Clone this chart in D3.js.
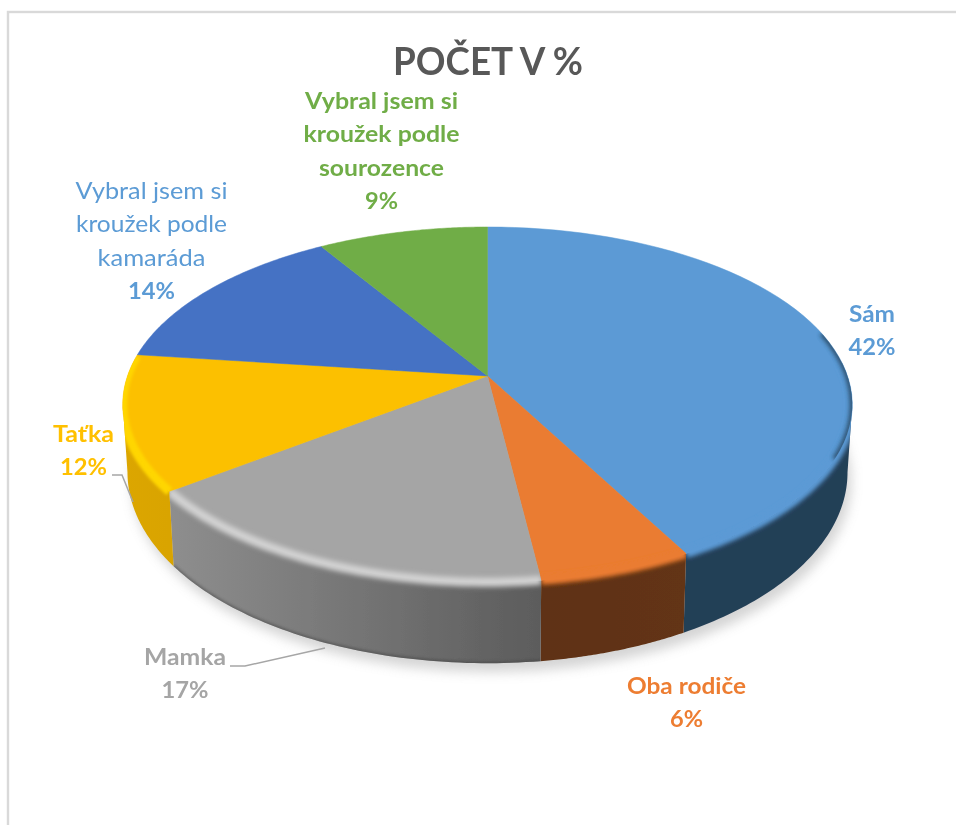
<!DOCTYPE html>
<html><head><meta charset="utf-8">
<script src="https://cdn.jsdelivr.net/npm/d3@7"></script>
<style>html,body{margin:0;padding:0;background:#fff;overflow:hidden}svg{display:block}text{font-family:Lato,"Open Sans",sans-serif}</style>
</head><body>
<svg id="c" width="956" height="825"></svg>
<script>
const categories = ["Sám","Oba rodiče","Mamka","Taťka","Vybral jsem si kroužek podle kamaráda","Vybral jsem si kroužek podle sourozence"];
const values = [42.15,5.85,16.7,12.3,14.2,8.8];
const valueLabels = ["42%","6%","17%","12%","14%","9%"];
const chartTitle = "POČET V %";

const faceColors = ["#5b9ad5","#ea7b30","#a5a5a5","#fcc000","#4472c4","#70ad47"];
const labelColors = ["#5b9bd5","#ed7d31","#a5a5a5","#ffc000","#5b9bd5","#70ad47"];
const wallStops = [["#243f57","#243f57"],["#5f3112","#633414"],["#8e8e8e","#5c5c5c"],["#dca600","#d9a400"],["#24396b","#24396b"],["#3f6128","#3f6128"]];
const bevel = [{c:"#5b9ad5",w:9,sd:2.2,ext:-14},{c:"#ea7b30",w:9,sd:2.2,ext:0},{c:"#d2d2d2",w:9,sd:2.6,ext:0},{c:"#ffd600",w:9,sd:1.8,ext:16}];

// label layout: wrapped lines, centre x, first baseline, width of each line, weight of the name
const labelLayout = [
 {lines:["Sám"],x:872,y:322,w:[46],weight:700},
 {lines:["Oba rodiče"],x:686.5,y:694,w:[119],weight:700},
 {lines:["Mamka"],x:185,y:665,w:[82],weight:700},
 {lines:["Taťka"],x:83.5,y:442,w:[61],weight:700},
 {lines:["Vybral jsem si","kroužek podle","kamaráda"],x:151.5,y:199,w:[152,151,108],weight:400},
 {lines:["Vybral jsem si","kroužek podle","sourozence"],x:381.5,y:109,w:[153,156,125],weight:700}
];
const valueWidths = [47,33,47,47,47,33];
const lineStep = 33.4;

const svg = d3.select("#c");
const cx=487.5, cy=376, R=360, A=173, k=0.161;

const pie = d3.pie().sort(null).startAngle(0).endAngle(2*Math.PI);
const arcs = pie(values);

const topP = (t,r=1) => { const u=Math.sin(t)*r, v=-Math.cos(t)*r, d=1-k*v;
  return [cx+R*u/d, cy+A*v/d]; };
const botP = t => { const p=topP(t), v=-Math.cos(t);
  return [cx+(p[0]-cx)*0.987, p[1]+65+16*v]; };
const line = d3.line();
const sample = (a,b,fn) => d3.range(0,61).map(i=>fn(a+(b-a)*i/60));
const visA = Math.acos(-k), visB = 2*Math.PI-visA;

const defs = svg.append("defs");
const blur = (id,sd)=>defs.append("filter").attr("id",id)
  .attr("filterUnits","userSpaceOnUse").attr("x",0).attr("y",0).attr("width",956).attr("height",825)
  .append("feGaussianBlur").attr("stdDeviation",sd);
blur("shadow",6); blur("soft",0.5); blur("edge",1.5); blur("rimDark",2.2);
bevel.forEach((b,i)=>blur("bv"+i,b.sd));

// frame
const root = svg.append("g").attr("filter","url(#soft)");
root.append("rect").attr("x",8).attr("y",12).attr("width",960).attr("height",830).attr("fill","#fff").attr("stroke","#d9d9d9").attr("stroke-width",2.4);

// drop shadow
const bottomRim = sample(0,2*Math.PI,botP).map(p=>[p[0]+4,p[1]+9]);
root.append("path").attr("d",line(bottomRim)+"Z").attr("fill","#9a9a9a").attr("opacity",0.42).attr("filter","url(#shadow)");

// walls
const wallPaths = arcs.map((a,i)=>{
  const s=Math.max(a.startAngle,visA), e=Math.min(a.endAngle,visB);
  if(e<=s) return null;
  const topEdge=sample(s,e,t=>topP(t)), botEdge=sample(s,e,botP).reverse();
  const xs=topEdge.map(p=>p[0]);
  const g=defs.append("linearGradient").attr("id","wall"+i).attr("gradientUnits","userSpaceOnUse")
    .attr("x1",d3.max(xs)).attr("x2",d3.min(xs)).attr("y1",0).attr("y2",0);
  g.append("stop").attr("offset",0).attr("stop-color",wallStops[i][1]);
  g.append("stop").attr("offset",1).attr("stop-color",wallStops[i][0]);
  const d=line(topEdge.concat(botEdge))+"Z";
  root.append("path").attr("d",d).attr("fill",`url(#wall${i})`);
  return d;
});
// darker foot of the gray wall
defs.append("clipPath").attr("id","grayWall").append("path").attr("d",wallPaths[2]);
root.append("g").attr("clip-path","url(#grayWall)").append("path")
  .attr("d",line(sample(arcs[2].startAngle,arcs[2].endAngle,botP)))
  .attr("fill","none").attr("stroke","#3c3c3c").attr("stroke-width",3).attr("opacity",0.55).attr("filter","url(#edge)");

// top face
const faceD = arcs.map(a=>line([topP(0,0)].concat(sample(a.startAngle,a.endAngle,t=>topP(t))))+"Z");
const faces=root.append("g");
arcs.forEach((a,i)=>{
  faces.append("path").attr("d",faceD[i]).attr("fill",faceColors[i]).attr("stroke",faceColors[i]).attr("stroke-width",0.5);
});
// rim bevel: soft band on the edge between the face and the wall of each front slice
bevel.forEach((b,i)=>{
  const a=arcs[i];
  let s=Math.max(a.startAngle,visA), e=Math.min(a.endAngle,visB);
  if(b.ext<0) s+=b.ext*Math.PI/180;
  if(b.ext>0) e+=b.ext*Math.PI/180;
  const clip=defs.append("clipPath").attr("id","sl"+i);
  clip.append("path").attr("d",faceD[i]);
  if(wallPaths[i]) clip.append("path").attr("d",wallPaths[i]);
  root.append("g").attr("clip-path",`url(#sl${i})`).append("path").attr("d",line(sample(s,e,t=>topP(t))))
    .attr("fill","none").attr("stroke",b.c).attr("stroke-width",b.w).attr("filter",`url(#bv${i})`);
});
// dark shaded rim on the far right of the largest slice
defs.append("clipPath").attr("id","blueFace").append("path").attr("d",faceD[0]);
root.append("g").attr("clip-path","url(#blueFace)").append("path")
  .attr("d",line(sample(visA-0.42,visA+0.3,t=>topP(t))))
  .attr("fill","none").attr("stroke","#243f57").attr("stroke-width",5).attr("opacity",0.85).attr("filter","url(#rimDark)");

// title
const txt=(x,y,s,w,size,weight,fill)=>root.append("text").attr("x",x).attr("y",y).attr("text-anchor","middle")
  .attr("font-size",size).attr("font-weight",weight).attr("fill",fill)
  .attr("textLength",w).attr("lengthAdjust","spacingAndGlyphs").text(s);
txt(488,75,chartTitle,190,39,700,"#595959");

// leaders
root.append("path").attr("d",line([[112,475],[122,475],[133,502]])).attr("fill","none").attr("stroke","#a6a6a6").attr("stroke-width",1.5);
root.append("path").attr("d",line([[230,666],[245,666],[325,648]])).attr("fill","none").attr("stroke","#a6a6a6").attr("stroke-width",1.5);

// labels
labelLayout.forEach((l,i)=>{
  l.lines.forEach((s,j)=>txt(l.x,l.y+j*lineStep,s,l.w[j],23,l.weight,labelColors[i]));
  txt(l.x,l.y+l.lines.length*lineStep,valueLabels[i],valueWidths[i],23,700,labelColors[i]);
});
</script>
</body></html>
